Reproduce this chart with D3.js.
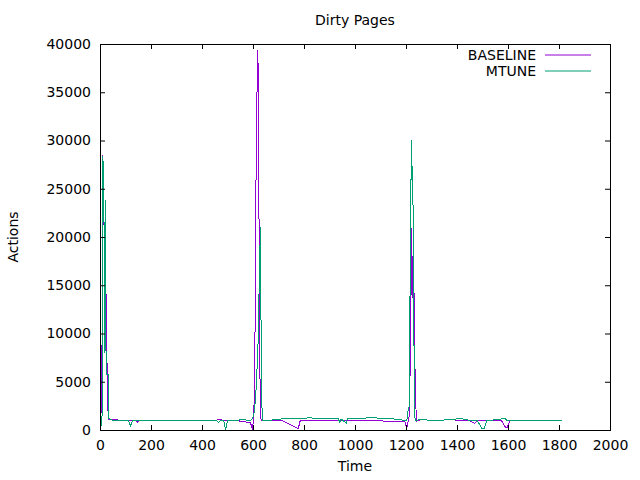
<!DOCTYPE html>
<html>
<head>
<meta charset="utf-8">
<script src="https://cdn.jsdelivr.net/npm/d3@7"></script>
<style>
  body { margin: 0; background: #fff; }
  text { font-family: "DejaVu Sans", sans-serif; fill: #000; }
</style>
</head>
<body>
<svg id="chart"></svg>
<script>
// sample times (s) and values
var times = [0, 4, 8, 11, 15, 18, 21, 24, 28, 32, 35, 45, 55, 65, 75, 110, 120, 128, 140, 148, 156,
  200, 300, 400, 455, 465, 475, 485, 493, 500, 540, 550, 565, 575, 590, 598, 603, 607, 610, 614,
  619, 622, 625, 629, 632, 636, 660, 715, 772, 778, 785, 815, 830, 840, 935, 940, 945, 966, 970,
  975, 1050, 1060, 1085, 1090, 1150, 1195, 1203, 1208, 1213, 1218, 1222, 1225, 1228, 1231, 1234,
  1237, 1240, 1262, 1275, 1292, 1300, 1385, 1400, 1420, 1450, 1470, 1480, 1497, 1507, 1517, 1575,
  1590, 1597, 1607, 1620, 1640, 1686, 1700, 1753, 1765, 1810];

var baseline = [300, 1800, 9000, 28500, 21300, 21300, 14500, 14000, 6000, 1300, 1100, 1050, 1100, 1100, 1000, 1000, 1000, 1000, 950, 800, 1000,
  1000, 1000, 1000, 1000, 1100, 1050, 950, 950, 1000, 1000, 900, 900, 800, 800, 0, 1500, 6000, 20000, 32800,
  39400, 33000, 11500, 1500, 1000, 950, 950, 950, 200, 200, 950, 950, 950, 950, 950, 950, 950, 950, 950,
  950, 950, 950, 950, 950, 900, 900, 200, 800, 1500, 9000, 20900, 13700, 18900, 15500, 6500,
  6000, 900, 1100, 1100, 950, 950, 1100, 950, 950, 950, 700, 950, 950, 950, 950, 950,
  300, 300, 950, 1000, 950, 1000, 950, 1000, 950, 950];

var mtune = [200, 400, 1500, 28400, 26000, 8000, 23800, 5700, 5700, 5700, 1200, 1050, 1000, 1000, 1000, 1000, 450, 1000, 1000, 1000, 1000,
  1000, 1000, 1000, 1000, 800, 1000, 1000, 0, 1000, 1000, 1100, 1100, 1000, 1000, 1200, 1500, 2500, 3000, 5500,
  8000, 12000, 16000, 21000, 9000, 1000, 1000, 1150, 1150, 1150, 1150, 1250, 1250, 1150, 1150, 800, 1150, 700, 1150,
  1150, 1250, 1250, 1250, 1150, 1150, 1000, 950, 2000, 2500, 23000, 30000, 25000, 23000, 10000, 1500,
  1000, 1000, 1100, 1100, 950, 950, 1100, 1150, 1150, 1000, 950, 950, 200, 200, 950, 1150,
  1150, 950, 950, 1000, 950, 1000, 950, 1000, 950, 950];

var xTicks = [0, 200, 400, 600, 800, 1000, 1200, 1400, 1600, 1800, 2000];
var yTicks = [0, 5000, 10000, 15000, 20000, 25000, 30000, 35000, 40000];
var seriesNames = ["BASELINE", "MTUNE"];
var seriesColors = ["#9400d3", "#009e73"];

var W = 640, H = 480;
var margin = { top: 44, right: 30, bottom: 50, left: 100 },
    width = W - margin.left - margin.right,
    height = H - margin.top - margin.bottom;

var svg = d3.select("#chart").attr("width", W).attr("height", H);

var x = d3.scaleLinear().domain([0, 2000]).range([margin.left, margin.left + width]);
var y = d3.scaleLinear().domain([0, 40000]).range([margin.top + height, margin.top]);

var tickLen = 5;

// plot lines
var series = [baseline, mtune];
series.forEach(function (vals, i) {
    svg.append("path")
        .datum(times.map(function (t, j) { return [t, vals[j]]; }))
        .attr("fill", "none")
        .attr("stroke", seriesColors[i])
        .attr("stroke-width", 1)
        .attr("shape-rendering", "crispEdges")
        .attr("d", d3.line()
            .x(function (d) { return x(d[0]); })
            .y(function (d) { return y(d[1]); }));
});

// axes (gnuplot style: inward ticks, mirrored)
var bottomAxis = svg.append("g")
    .attr("transform", "translate(0," + (margin.top + height) + ")")
    .call(d3.axisBottom(x).tickValues(xTicks).tickSize(-tickLen).tickPadding(10).tickFormat(d3.format("d")));
var topAxis = svg.append("g")
    .attr("transform", "translate(0," + margin.top + ")")
    .call(d3.axisTop(x).tickValues(xTicks).tickSize(-tickLen).tickFormat(""));
var leftAxis = svg.append("g")
    .attr("transform", "translate(" + margin.left + ",0)")
    .call(d3.axisLeft(y).tickValues(yTicks).tickSize(-tickLen).tickPadding(9).tickFormat(d3.format("d")));
var rightAxis = svg.append("g")
    .attr("transform", "translate(" + (margin.left + width) + ",0)")
    .call(d3.axisRight(y).tickValues(yTicks).tickSize(-tickLen).tickFormat(""));

svg.selectAll(".domain").remove();
svg.selectAll(".tick line").attr("stroke", "#000");
svg.selectAll(".tick text").attr("font-size", 14).attr("font-family", "DejaVu Sans").attr("fill", "#000");

svg.append("rect")
    .attr("x", margin.left + 0.5).attr("y", margin.top + 0.5)
    .attr("width", width).attr("height", height)
    .attr("fill", "none").attr("stroke", "#000").attr("stroke-width", 1);

// titles
svg.append("text").attr("x", margin.left + width / 2).attr("y", 25)
    .attr("text-anchor", "middle").attr("font-size", 14).text("Dirty Pages");
svg.append("text").attr("x", margin.left + width / 2).attr("y", 471)
    .attr("text-anchor", "middle").attr("font-size", 14).text("Time");
svg.append("text").attr("transform", "translate(18," + (margin.top + height / 2) + ") rotate(-90)")
    .attr("text-anchor", "middle").attr("font-size", 14).text("Actions");

// legend
seriesNames.forEach(function (name, i) {
    var ly = 55 + i * 16;
    svg.append("text").attr("x", 536).attr("y", ly + 5)
        .attr("text-anchor", "end").attr("font-size", 14).text(name);
    svg.append("line").attr("x1", 545).attr("x2", 591).attr("y1", ly).attr("y2", ly)
        .attr("stroke", seriesColors[i]).attr("stroke-width", 1);
});
</script>
</body>
</html>
